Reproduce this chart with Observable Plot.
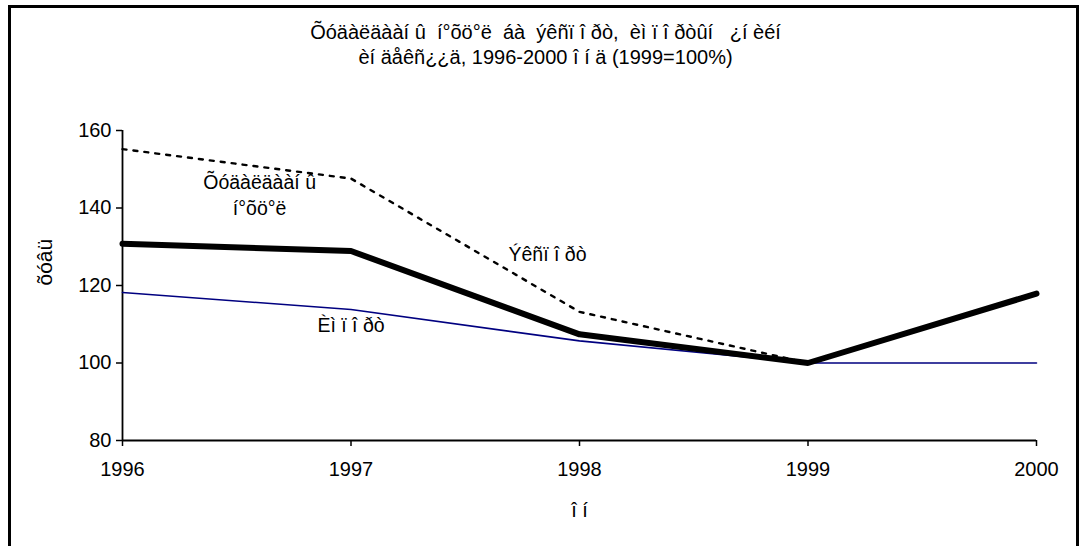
<!DOCTYPE html>
<html>
<head>
<meta charset="utf-8">
<script src="https://cdn.jsdelivr.net/npm/d3@7"></script>
<script src="https://cdn.jsdelivr.net/npm/@observablehq/plot@0.6"></script>
<style>
  html, body { margin: 0; padding: 0; background: #fff; }
  #wrap { position: relative; width: 1087px; height: 546px; overflow: hidden; }
  #border { position: absolute; left: 8px; top: 5px; width: 1071px; height: 600px; border: 3px solid #000; box-sizing: border-box; pointer-events: none; }
  svg { font-family: "Liberation Sans", Arial, sans-serif; }
</style>
</head>
<body>
<div id="wrap"><div id="border"></div></div>
<script>
const years = [1996, 1997, 1998, 1999, 2000];
const trade = [130.8, 128.9, 107.4, 100, 117.9];        // Õóäàëäààí û í°õö°ë
const exportIdx = [155.2, 147.6, 113.2, 100, null];     // Ýêñï î ðò
const importIdx = [118.2, 113.8, 105.7, 100, 100];      // Èì ï î ðò
const yTicks = [80, 100, 120, 140, 160];
const titleLines = ["Õóäàëäààí û  í°õö°ë  áà  ýêñï î ðò,  èì ï î ðòûí   ¿í èéí", "èí äåêñ¿¿ä, 1996-2000 î í ä (1999=100%)"];
const yLabel = "õóâü";
const xLabel = "î í";
const labelText = ["Õóäàëäààí û", "í°õö°ë", "Ýêñï î ðò", "Èì ï î ðò"];
const labelX = [1996.6, 1996.6, 1997.86, 1997.0];
const labelY = [146.4, 139.9, 128.0, 109.6];

const rows = (vals) => years.map((y, i) => ({year: y, v: vals[i]})).filter(d => d.v != null);
const labels = labelText.map((t, i) => ({t, x: labelX[i], y: labelY[i]}));

const chart = Plot.plot({
  width: 1087,
  height: 546,
  marginLeft: 122,
  marginRight: 51,
  marginTop: 130,
  marginBottom: 106,
  style: {background: "transparent", fontFamily: "'Liberation Sans', Arial, sans-serif", overflow: "visible"},
  x: {domain: [1996, 2000]},
  y: {domain: [80, 160]},
  marks: [
    Plot.axisX({ticks: years, tickFormat: d => String(d), tickSize: 6, tickPadding: 15, fontSize: 20, label: null, stroke: "#000", strokeWidth: 1.5}),
    Plot.axisY({ticks: yTicks, tickSize: 6, tickPadding: 5, fontSize: 20, label: null, stroke: "#000", strokeWidth: 1.5}),
    Plot.ruleY([80], {stroke: "#000", strokeWidth: 1.8}),
    Plot.ruleX([1996], {stroke: "#000", strokeWidth: 1.8}),
    Plot.line(rows(importIdx), {x: "year", y: "v", stroke: "#000080", strokeWidth: 1.6}),
    Plot.line(rows(exportIdx), {x: "year", y: "v", stroke: "#000", strokeWidth: 2.4, strokeDasharray: "4,7"}),
    Plot.line(rows(trade), {x: "year", y: "v", stroke: "#000", strokeWidth: 6, strokeLinejoin: "miter"}),
    Plot.text(labels, {x: "x", y: "y", text: "t", fontSize: 19.5, fill: "#000"}),
    Plot.text([titleLines[0]], {frameAnchor: "top", dx: -34, dy: -106, fontSize: 20, fill: "#000"}),
    Plot.text([titleLines[1]], {frameAnchor: "top", dx: -34, dy: -81, fontSize: 20, fill: "#000"}),
    Plot.text([yLabel], {frameAnchor: "left", dx: -77, rotate: -90, fontSize: 21, fill: "#000"}),
    Plot.text([xLabel], {frameAnchor: "bottom", dy: 76, fontSize: 20, fill: "#000"})
  ]
});
document.getElementById("wrap").prepend(chart);
</script>
</body>
</html>
